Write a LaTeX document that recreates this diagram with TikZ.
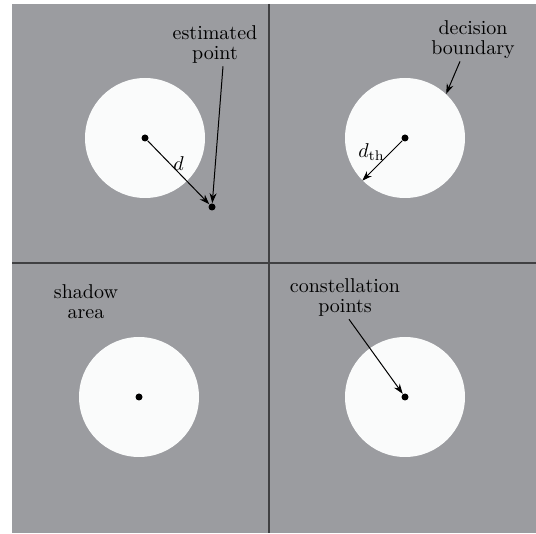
\documentclass[tikz,border=0pt]{standalone}
\usepackage{amsmath}
\usepackage{tikz}
\usetikzlibrary{arrows.meta}
\definecolor{areagray}{RGB}{155,156,160}
\definecolor{gridline}{RGB}{64,64,66}
\definecolor{diskwhite}{RGB}{250,251,251}

\begin{document}
\begin{tikzpicture}[x=0.5pt, y=-0.5pt, >={Stealth[length=5pt,width=3.5pt]},
  region/.style={circle, fill=diskwhite, minimum size=60pt, inner sep=0pt},
  pt/.style={circle, fill=black, minimum size=3.5pt, inner sep=0pt},
  lbl/.style={align=center, font=\fontsize{10}{10}\selectfont, inner sep=1pt},
  ptr/.style={->, line width=0.5pt}]

  \useasboundingbox (0,0) rectangle (536,534);
  \fill[areagray] (12,4) rectangle (536,533);
  \draw[gridline, line width=0.75pt] (269,4) -- (269,533);
  \draw[gridline, line width=0.75pt] (12,263) -- (536,263);

  % Define nodes
  \node[region] (r1) at (145,138) {};
  \node[region] (r2) at (405,138) {};
  \node[region] (r3) at (139,397) {};
  \node[region] (r4) at (405,397) {};
  \node[pt] (p1) at (145,138) {};
  \node[pt] (p2) at (405,138) {};
  \node[pt] (p3) at (139,397) {};
  \node[pt] (p4) at (405,397) {};
  \node[pt] (est) at (212,207) {};
  \node[lbl] (estlbl) at (215,45) {estimated\\point};
  \node[lbl] (declbl) at (473,40) {decision\\boundary};
  \node[lbl] (shlbl) at (86,302) {shadow\\area};
  \node[lbl] (conlbl) at (345,298) {constellation\\points};

  % Draw arrows
  \draw[ptr] (p1) -- (est) node[midway, above, inner sep=0.5pt] {$d$};
  \draw[ptr] ([xshift=4pt]estlbl.south) -- (est);
  \draw[ptr] (p2) -- (r2.225) node[midway, above left, inner sep=0pt, xshift=1.5pt] {$d_{\mathrm{th}}$};
  \draw[ptr] ([xshift=-6.5pt]declbl.south) -- (r2.47);
  \draw[ptr] ([xshift=2pt]conlbl.south) -- (p4);
\end{tikzpicture}
\end{document}
